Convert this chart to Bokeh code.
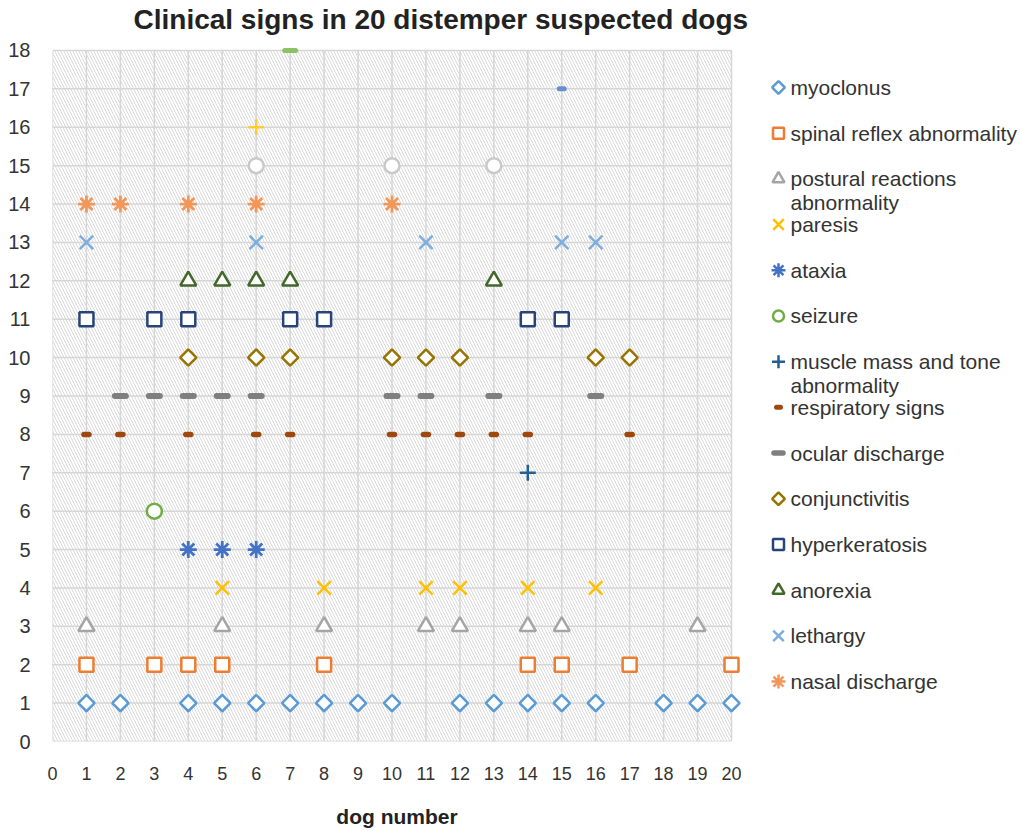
import math
from bokeh.plotting import figure
from bokeh.layouts import row, column
from bokeh.models import FixedTicker, BoxAnnotation, Range1d
from bokeh.embed import file_html
from bokeh.resources import INLINE
from bokeh.core.properties import value

# ---------------- data ----------------
title_text = "Clinical signs in 20 distemper suspected dogs"
x_label = "dog number"
x_ticks = list(range(0, 21))
y_ticks = list(range(0, 19))

myoclonus = [1, 2, 4, 5, 6, 7, 8, 9, 10, 12, 13, 14, 15, 16, 18, 19, 20]
spinal_reflex = [1, 3, 4, 5, 8, 14, 15, 17, 20]
postural = [1, 5, 8, 11, 12, 14, 15, 19]
paresis = [5, 8, 11, 12, 14, 16]
ataxia = [4, 5, 6]
seizure = [3]
muscle = [14]
respiratory = [1, 2, 4, 6, 7, 10, 11, 12, 13, 14, 17]
ocular = [2, 3, 4, 5, 6, 10, 11, 13, 16]
conjunctivitis = [4, 6, 7, 10, 11, 12, 16, 17]
hyperkeratosis = [1, 3, 4, 7, 8, 14, 15]
anorexia = [4, 5, 6, 7, 13]
lethargy = [1, 6, 11, 15, 16]
nasal = [1, 2, 4, 6, 10]
series15 = [6, 10, 13]
series16 = [6]
series17 = [15]
series18 = [7]

legend_labels = [
    "myoclonus", "spinal reflex abnormality", "postural reactions\nabnormality",
    "paresis", "ataxia", "seizure", "muscle mass and tone\nabnormality",
    "respiratory signs", "ocular discharge", "conjunctivitis", "hyperkeratosis",
    "anorexia", "lethargy", "nasal discharge",
]
series_dogs = [myoclonus, spinal_reflex, postural, paresis, ataxia, seizure, muscle,
               respiratory, ocular, conjunctivitis, hyperkeratosis, anorexia, lethargy,
               nasal, series15, series16, series17, series18]
series_level = list(range(1, 19))

# ---------------- styles ----------------
# (marker, size, line width, color, angle, filled-white, legend size)
styles = [
    ("square", 11.5, 2.5, "#5B9BD5", math.pi / 4, True, 9),
    ("square", 14, 2.5, "#ED7D31", 0, True, 11),
    ("triangle", 16, 2.5, "#A5A5A5", 0, True, 12),
    ("x", 19, 2.5, "#FFC000", 0, False, 15),
    ("asterisk", 17, 2.8, "#4472C4", 0, False, 14),
    ("circle", 15, 2.5, "#70AD47", 0, True, 11),
    ("cross", 16, 2.5, "#255E91", 0, False, 13),
    ("dash", 5, 5.5, "#9E480E", 0, False, 4),
    ("dash", 11, 6, "#7F7F7F", 0, False, 9),
    ("square", 11.5, 2.5, "#997300", math.pi / 4, True, 9),
    ("square", 14, 2.5, "#264478", 0, True, 11),
    ("triangle", 16, 2.5, "#43682B", 0, True, 12),
    ("x", 19, 2.5, "#7CAFDD", 0, False, 15),
    ("asterisk", 17, 2.8, "#F1975A", 0, False, 14),
    ("circle", 15, 2.5, "#C9C9C9", 0, True, 11),
    ("cross", 16, 2.5, "#FFCD33", 0, False, 13),
    ("dash", 5, 5, "#698ED0", 0, False, 4),
    ("dash", 11, 5, "#8CC168", 0, False, 9),
]

FONT = "Liberation Sans"
TEXT = "#333333"
GRID = "#d6d6d6"

H_TOTAL = 830
W_TOTAL = 1018
H_TITLE = 36
H = H_TOTAL - H_TITLE
# target plot area (page pixels) for the 0..20 x 0..18 grid
AX_L, AX_R, AX_T, AX_B = 52, 731, 50, 742
PAD_R = 10                      # room so the markers at x = 20 are not clipped
W_MAIN = AX_R + PAD_R
W_LEG = W_TOTAL - W_MAIN
BB = H_TOTAL - AX_B
ux = (x_ticks[-1] - x_ticks[0]) / (AX_R - AX_L)   # data units per pixel
uy = (y_ticks[-1] - y_ticks[0]) / (AX_B - AX_T)
x_end = x_ticks[-1] + PAD_R * ux
y_end = y_ticks[-1] + (AX_T - H_TITLE) * uy

# ---------------- title strip (page pixel coordinates) ----------------
tf = figure(width=W_TOTAL, height=H_TITLE, x_range=Range1d(0, W_TOTAL),
            y_range=Range1d(H_TITLE, 0), output_backend="svg", toolbar_location=None,
            min_border=0, x_axis_type=None, y_axis_type=None)
tf.outline_line_color = None
tf.grid.visible = False
tf.background_fill_color = "white"
tf.border_fill_color = "white"
tf.text(x=[133], y=[19], text=[title_text], text_font=value(FONT),
        text_font_size=value("28px"), text_font_style="bold", text_color="#222222",
        text_baseline="middle", text_align="left")

# ---------------- main plot ----------------
p = figure(width=W_MAIN, height=H, x_range=Range1d(x_ticks[0], x_end),
           y_range=Range1d(y_ticks[0], y_end), output_backend="svg",
           toolbar_location=None, min_border_left=AX_L, min_border_right=0,
           min_border_top=0, min_border_bottom=BB)
p.outline_line_color = None
p.background_fill_color = "white"
p.border_fill_color = "white"

bg = BoxAnnotation(left=x_ticks[0], right=x_ticks[-1], bottom=y_ticks[0], top=y_ticks[-1],
                   fill_color="white", fill_alpha=1.0, line_color=None,
                   hatch_pattern="\\", hatch_color="#d9d9d9", hatch_scale=6,
                   hatch_weight=1, hatch_alpha=1.0, level="image")
p.add_layout(bg)

# grid lines limited to the 0..20 x 0..18 area
p.grid.visible = False
p.segment(x0=x_ticks, x1=x_ticks, y0=[y_ticks[0]] * len(x_ticks), y1=[y_ticks[-1]] * len(x_ticks),
          line_color=GRID, line_width=1.5, level="underlay")
p.segment(x0=[x_ticks[0]] * len(y_ticks), x1=[x_ticks[-1]] * len(y_ticks), y0=y_ticks, y1=y_ticks,
          line_color=GRID, line_width=1.5, level="underlay")

p.xaxis.ticker = FixedTicker(ticks=x_ticks)
p.yaxis.ticker = FixedTicker(ticks=y_ticks)
for ax in (p.xaxis, p.yaxis):
    ax.axis_line_color = None
    ax.major_tick_line_color = None
    ax.minor_tick_line_color = None
    ax.major_label_text_font = FONT
    ax.major_label_text_color = TEXT
p.xaxis.major_label_text_font_size = "18px"
p.yaxis.major_label_text_font_size = "20px"
p.xaxis.major_label_standoff = 19
p.yaxis.major_label_standoff = 16
p.xaxis.axis_label = x_label
p.xaxis.axis_label_text_font = FONT
p.xaxis.axis_label_text_font_size = "21px"
p.xaxis.axis_label_text_font_style = "bold"
p.xaxis.axis_label_text_color = "#222222"
p.xaxis.axis_label_standoff = 22

for dogs, lvl, st in zip(series_dogs, series_level, styles):
    marker, size, lw, color, ang, filled, _ = st
    kw = dict(marker=marker, size=size, line_color=color, line_width=lw, angle=ang,
              fill_color="white" if filled else None)
    if marker == "dash":
        kw["line_cap"] = "round"
    p.scatter(x=dogs, y=[lvl] * len(dogs), **kw)

# ---------------- legend panel (page pixel coordinates) ----------------
lf = figure(width=W_LEG, height=H, x_range=Range1d(W_MAIN, W_TOTAL),
            y_range=Range1d(AX_B, H_TITLE),
            output_backend="svg", toolbar_location=None, min_border_left=0,
            min_border_right=0, min_border_top=0, min_border_bottom=BB,
            x_axis_type=None, y_axis_type=None)
lf.outline_line_color = None
lf.grid.visible = False
lf.background_fill_color = "white"
lf.border_fill_color = "white"

leg_y0, leg_dy, line_dy = 87, 45.77, 24
mx, tx = 778, 790
for i, lab in enumerate(legend_labels):
    marker, size, lw, color, ang, filled, lsize = styles[i]
    y = leg_y0 + i * leg_dy
    kw = dict(marker=marker, size=lsize, line_color=color,
              line_width=lw - 0.5 if marker == "dash" else min(lw, 2.5),
              angle=-ang, fill_color="white" if filled else None)
    if marker == "dash":
        kw["line_cap"] = "round"
    lf.scatter(x=[mx], y=[y], **kw)
    lines = lab.split("\n")
    lf.text(x=[tx] * len(lines), y=[y + k * line_dy for k in range(len(lines))], text=lines,
            text_font=value(FONT), text_font_size=value("21px"), text_color=TEXT,
            text_baseline="middle", text_align="left")

layout = column(tf, row(p, lf))
open("out.html", "w").write(file_html(layout, INLINE))
